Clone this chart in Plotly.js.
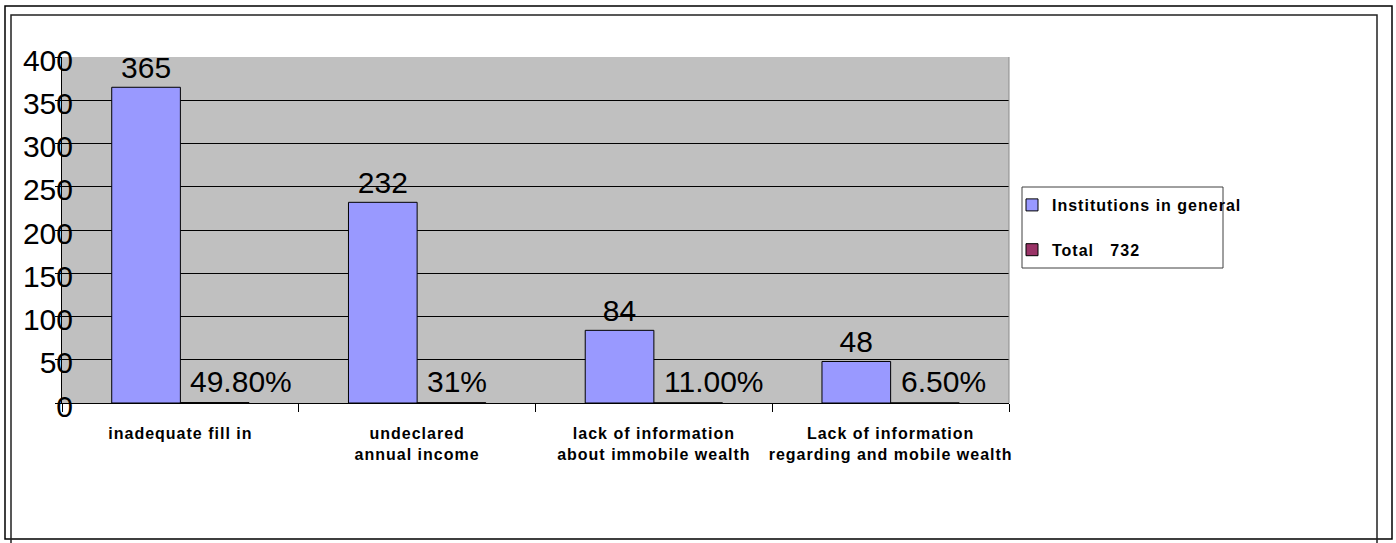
<!DOCTYPE html>
<html>
<head>
<meta charset="utf-8">
<script src="https://cdn.plot.ly/plotly-3.0.1.min.js"></script>
<style>
  html, body { margin: 0; padding: 0; background: #fff; }
  #chart { width: 1396px; height: 543px; }
  .xtick text, .legendtext { letter-spacing: 1px; }
</style>
</head>
<body>
<div id="chart"></div>
<script>
// ---- data ----
const categories = [
  "inadequate fill in",
  "undeclared<br>annual income",
  "lack of information<br>about immobile wealth",
  "Lack of information<br>regarding and mobile wealth"
];
const seriesNames = ["Institutions in general", "Total\u00a0\u00a0\u00a0732"];
const institutions = [365, 232, 84, 48];
const shares = [0.498, 0.31, 0.11, 0.065];
const shareLabels = ["49.80%", "31%", "11.00%", "6.50%"];
const yTicks = [0, 50, 100, 150, 200, 250, 300, 350, 400];

// ---- geometry helpers (pixels -> paper) ----
const W = 1396, H = 543;
const M = {l: 62, r: 387, t: 57, b: 140};
const PW = W - M.l - M.r, PH = H - M.t - M.b;
const fx = px => (px - M.l) / PW;
const fy = py => (H - M.b - py) / PH;

const FONT = '"Liberation Sans", Arial, sans-serif';

const traces = [
  {
    type: 'bar', name: seriesNames[0], x: categories, y: institutions,
    marker: {color: '#9999FF', line: {color: '#000000', width: 1}},
    text: institutions.map(String), textposition: 'outside', cliponaxis: false,
    textfont: {family: FONT, size: 30, color: '#000'},
    legendgroup: 'a', hoverinfo: 'x+y'
  },
  {
    type: 'bar', name: seriesNames[1], x: categories, y: shares,
    marker: {color: '#993366', line: {color: '#000000', width: 1}},
    legendgroup: 'b', hoverinfo: 'x+y'
  }
];

const annotations = categories.map((c, i) => ({
  x: c, y: 0, xref: 'x', yref: 'y', text: shareLabels[i],
  xanchor: 'left', yanchor: 'middle', xshift: 8, yshift: 22,
  showarrow: false, font: {family: FONT, size: 30, color: '#000'}
}));

const shapes = [
  // outer frame
  {type: 'rect', xref: 'paper', yref: 'paper', x0: fx(5), x1: fx(1392), y0: fy(539), y1: fy(6),
   line: {color: '#000', width: 1.5}, layer: 'above'},
  // inner frame (runs off bottom)
  {type: 'path', xref: 'paper', yref: 'paper',
   path: `M ${fx(11)} ${fy(560)} L ${fx(11)} ${fy(15)} L ${fx(1377)} ${fy(15)} L ${fx(1377)} ${fy(560)}`,
   line: {color: '#222', width: 1.5}, layer: 'above'},
  // right edge of plot area
  {type: 'line', xref: 'paper', yref: 'paper', x0: 1, x1: 1, y0: 0, y1: 1,
   line: {color: '#8a8a8a', width: 1}, layer: 'above'},
  // legend box
  {type: 'rect', xref: 'paper', yref: 'paper', x0: fx(1022), x1: fx(1223), y0: fy(268), y1: fy(187),
   line: {color: '#404040', width: 1}, fillcolor: 'rgba(0,0,0,0)', layer: 'above'}
];

const layout = {
  width: W, height: H,
  margin: M,
  paper_bgcolor: '#ffffff',
  plot_bgcolor: '#C0C0C0',
  font: {family: FONT, color: '#000'},
  barmode: 'group', bargap: 0.42, bargroupgap: 0,
  showlegend: true,
  legend: {
    x: fx(1012), y: fy(188), xanchor: 'left', yanchor: 'top',
    bgcolor: 'rgba(0,0,0,0)', borderwidth: 0,
    font: {family: FONT, size: 16, color: '#000', weight: 'bold'},
    tracegroupgap: 21, traceorder: 'grouped'
  },
  xaxis: {
    type: 'category', showgrid: false, showline: true, linecolor: '#000', linewidth: 1,
    ticks: 'outside', tickson: 'boundaries', ticklen: 8, tickcolor: '#000',
    tickfont: {family: FONT, size: 16, color: '#000', weight: 'bold'},
    ticklabelstandoff: 16, tickangle: 0, fixedrange: true
  },
  yaxis: {
    range: [0, 400], tickvals: yTicks, ticktext: yTicks.map(String),
    showgrid: true, gridcolor: '#000', gridwidth: 1,
    showline: true, linecolor: '#000', linewidth: 1, zeroline: false,
    ticks: 'outside', ticklen: 6, tickcolor: '#000',
    tickfont: {family: FONT, size: 30, color: '#000'},
    ticklabelstandoff: -24, ticklabelshift: 3, fixedrange: true
  },
  annotations: annotations,
  shapes: shapes
};

Plotly.newPlot('chart', traces, layout, {displayModeBar: false, staticPlot: true});
</script>
</body>
</html>
